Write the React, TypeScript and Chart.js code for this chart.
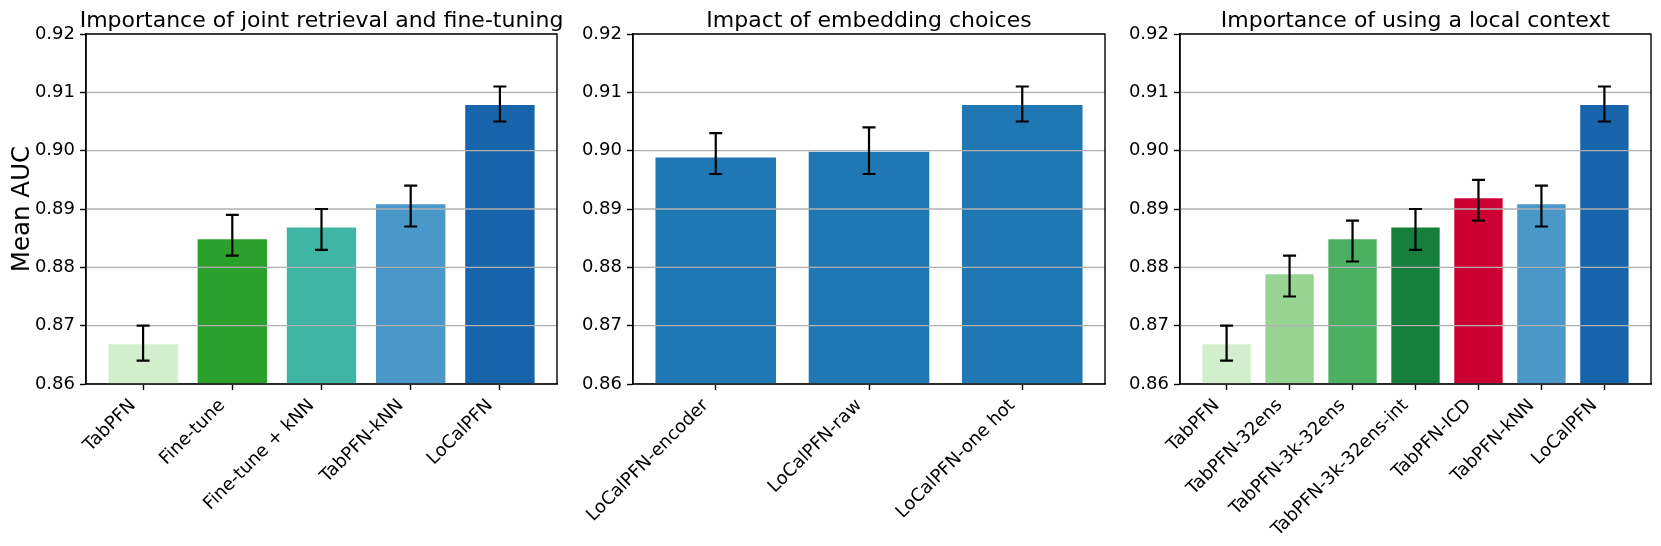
import React, { useEffect, useRef } from 'react';
import { Chart, registerables } from 'chart.js';

Chart.register(...registerables);

const yTicks = [0.86, 0.87, 0.88, 0.89, 0.9, 0.91, 0.92];

const title1 = 'Importance of joint retrieval and fine-tuning';
const cats1 = ['TabPFN', 'Fine-tune', 'Fine-tune + kNN', 'TabPFN-kNN', 'LoCalPFN'];
const vals1 = [0.867, 0.885, 0.887, 0.891, 0.908];
const lo1 = [0.864, 0.882, 0.883, 0.887, 0.905];
const hi1 = [0.87, 0.889, 0.89, 0.894, 0.911];
const colors1 = ['#d3eecd', '#2ca02c', '#40b5a3', '#4a98c9', '#1764ab'];

const title2 = 'Impact of embedding choices';
const cats2 = ['LoCalPFN-encoder', 'LoCalPFN-raw', 'LoCalPFN-one hot'];
const vals2 = [0.899, 0.9, 0.908];
const lo2 = [0.896, 0.896, 0.905];
const hi2 = [0.903, 0.904, 0.911];
const colors2 = ['#1f77b4', '#1f77b4', '#1f77b4'];

const title3 = 'Importance of using a local context';
const cats3 = ['TabPFN', 'TabPFN-32ens', 'TabPFN-3k-32ens', 'TabPFN-3k-32ens-int', 'TabPFN-ICD', 'TabPFN-kNN', 'LoCalPFN'];
const vals3 = [0.867, 0.879, 0.885, 0.887, 0.892, 0.891, 0.908];
const lo3 = [0.864, 0.875, 0.881, 0.883, 0.888, 0.887, 0.905];
const hi3 = [0.87, 0.882, 0.888, 0.89, 0.895, 0.894, 0.911];
const colors3 = ['#d3eecd', '#98d594', '#4bb062', '#157f3b', '#cc0033', '#4a98c9', '#1764ab'];

const FONT = '"DejaVu Sans", sans-serif';
const TOP = 34;
const BOTTOM = 384;
const H = 546;

const overlay = {
  id: 'overlay',
  afterDatasetsDraw(chart: any, _args: any, opts: any) {
    const { ctx, chartArea: a, scales } = chart;
    const x = scales.x;
    const y = scales.y;
    ctx.save();
    // grid on top of bars
    ctx.strokeStyle = '#b0b0b0';
    ctx.lineWidth = 1.4;
    for (const t of yTicks) {
      const py = y.getPixelForValue(t);
      ctx.beginPath();
      ctx.moveTo(a.left, py);
      ctx.lineTo(a.right, py);
      ctx.stroke();
    }
    // error bars
    ctx.strokeStyle = '#000';
    ctx.lineWidth = 2.2;
    opts.lo.forEach((l: number, i: number) => {
      const px = x.getPixelForValue(i);
      const p1 = y.getPixelForValue(l);
      const p2 = y.getPixelForValue(opts.hi[i]);
      ctx.beginPath();
      ctx.moveTo(px, p1);
      ctx.lineTo(px, p2);
      ctx.moveTo(px - 6.5, p1);
      ctx.lineTo(px + 6.5, p1);
      ctx.moveTo(px - 6.5, p2);
      ctx.lineTo(px + 6.5, p2);
      ctx.stroke();
    });
    // frame
    ctx.strokeStyle = '#000';
    ctx.lineWidth = 1.4;
    ctx.strokeRect(a.left, a.top, a.right - a.left, a.bottom - a.top);
    // title
    ctx.fillStyle = '#000';
    ctx.font = `22px ${FONT}`;
    ctx.textAlign = 'center';
    ctx.textBaseline = 'alphabetic';
    ctx.fillText(opts.title, (a.left + a.right) / 2, a.top - 7);
    // y label
    if (opts.ylabel) {
      ctx.font = `24.5px ${FONT}`;
      ctx.translate(29, (a.top + a.bottom) / 2);
      ctx.rotate(-Math.PI / 2);
      ctx.textAlign = 'center';
      ctx.textBaseline = 'alphabetic';
      ctx.fillText(opts.ylabel, 0, 0);
    }
    ctx.restore();
  },
};

type PanelProps = {
  left: number;
  width: number;
  yAxisWidth: number;
  padRight: number;
  title: string;
  cats: string[];
  vals: number[];
  lo: number[];
  hi: number[];
  colors: string[];
  ylabel?: string;
};

function Panel(p: PanelProps) {
  const ref = useRef<HTMLCanvasElement | null>(null);
  useEffect(() => {
    if (!ref.current) return;
    const n = p.cats.length;
    const m = 0.05 * (n - 1 + 0.8);
    const chart = new Chart(ref.current, {
      type: 'bar',
      data: {
        datasets: [
          {
            data: p.vals.map((v, i) => ({ x: i, y: v })),
            backgroundColor: p.colors,
            borderColor: 'rgba(255,255,255,0.35)',
            borderWidth: 1,
            categoryPercentage: 0.8,
            barPercentage: 1.0,
          } as any,
        ],
      },
      options: {
        responsive: false,
        animation: false,
        devicePixelRatio: 1,
        layout: { padding: { top: TOP, right: p.padRight, left: 0, bottom: 0 } },
        plugins: {
          legend: { display: false },
          tooltip: { enabled: false },
          overlay: { lo: p.lo, hi: p.hi, title: p.title, ylabel: p.ylabel },
        } as any,
        scales: {
          x: {
            type: 'linear',
            min: -0.4 - m,
            max: n - 1 + 0.4 + m,
            offset: false,
            afterBuildTicks: (s: any) => {
              s.ticks = p.cats.map((_, i) => ({ value: i }));
            },
            afterFit: (s: any) => {
              s.height = H - BOTTOM;
            },
            ticks: {
              autoSkip: false,
              minRotation: 45,
              maxRotation: 45,
              padding: 5,
              labelOffset: -10,
              color: '#000',
              font: { family: FONT, size: 18 },
              callback: (v: any) => p.cats[v] ?? '',
            },
            grid: {
              offset: false,
              drawOnChartArea: false,
              drawTicks: true,
              tickLength: 6,
              tickWidth: 1.4,
              tickColor: '#000',
              color: '#000',
            },
            border: { display: true, color: '#000', width: 1.4 },
          },
          y: {
            min: 0.86,
            max: 0.92,
            afterBuildTicks: (s: any) => {
              s.ticks = yTicks.map((v) => ({ value: v }));
            },
            afterFit: (s: any) => {
              s.width = p.yAxisWidth;
            },
            ticks: {
              padding: 5,
              color: '#000',
              font: { family: FONT, size: 18 },
              callback: (v: any) => Number(v).toFixed(2),
            },
            grid: {
              offset: false,
              drawOnChartArea: false,
              drawTicks: true,
              tickLength: 6,
              tickWidth: 1.4,
              tickColor: '#000',
              color: '#000',
            },
            border: { display: true, color: '#000', width: 1.4 },
          },
        },
      } as any,
      plugins: [overlay as any],
    });
    return () => chart.destroy();
  }, []);
  return (
    <canvas
      ref={ref}
      width={p.width}
      height={H}
      style={{ position: 'absolute', left: p.left, top: 0, width: p.width, height: H, display: 'block' }}
    />
  );
}

export default function App() {
  return (
    <div style={{ position: 'fixed', left: 0, top: 0, width: 1661, height: H, background: '#fff', overflow: 'hidden' }}>
      <Panel left={0} width={600} yAxisWidth={86} padRight={43} title={title1} cats={cats1} vals={vals1} lo={lo1} hi={hi1} colors={colors1} ylabel="Mean AUC" />
      <Panel left={560} width={546} yAxisWidth={73} padRight={1} title={title2} cats={cats2} vals={vals2} lo={lo2} hi={hi2} colors={colors2} />
      <Panel left={1110} width={551} yAxisWidth={70} padRight={10} title={title3} cats={cats3} vals={vals3} lo={lo3} hi={hi3} colors={colors3} />
    </div>
  );
}
